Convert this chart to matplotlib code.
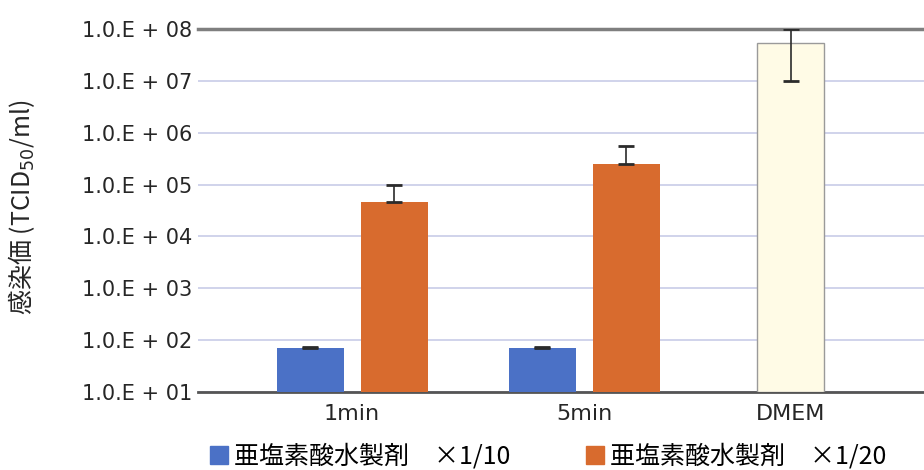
import numpy as np
import matplotlib
matplotlib.use("Agg")
import matplotlib.pyplot as plt
from matplotlib.patches import Patch

plt.rcParams["font.family"] = ["Noto Sans CJK JP", "DejaVu Sans"]

# infectious titre per treatment (TCID50/ml), mean and SD
categories = ["1min", "5min", "DMEM"]
series_names = ["亜塩素酸水製剤　×1/10", "亜塩素酸水製剤　×1/20"]
dil10_mean = [62, 62]
dil10_sd = [3, 3]
dil20_mean = [4.6e4, 2.5e5]
dil20_sd = [5.4e4, 3.0e5]
dmem_mean = 5.5e7
dmem_sd = 4.5e7

ytick_vals = [1e1, 1e2, 1e3, 1e4, 1e5, 1e6, 1e7, 1e8]
ytick_labels = ["1.0.E + 01", "1.0.E + 02", "1.0.E + 03", "1.0.E + 04",
                "1.0.E + 05", "1.0.E + 06", "1.0.E + 07", "1.0.E + 08"]

blue = "#4b71c6"
orange = "#d86b2e"
cream = "#fffbe6"
text_col = "#262626"


def lower_err(mean, sd):
    # a negative lower bound can't be shown on a log axis, so clip it to the bar top
    mean = np.asarray(mean, float)
    sd = np.asarray(sd, float)
    return np.where(sd < mean, sd, 0.0)


fig = plt.figure(figsize=(9.24, 4.70), dpi=100)
ax = fig.add_axes([0.2143, 0.166, 0.7857, 0.772])

centers = np.array([0.0, 1.0, 1.89])
width = 0.289
off = 0.181
ekw = dict(ecolor="#2b2b2b", elinewidth=1.2, capsize=6, capthick=2)

ax.bar(centers[:2] - off, dil10_mean, width, color=blue, bottom=1e1,
       yerr=[lower_err(dil10_mean, dil10_sd), dil10_sd], error_kw=ekw, zorder=3)
ax.bar(centers[:2] + off, dil20_mean, width, color=orange, bottom=1e1,
       yerr=[lower_err(dil20_mean, dil20_sd), dil20_sd], error_kw=ekw, zorder=3)
ax.bar(centers[2], dmem_mean, width, color=cream, edgecolor="#9a9a9a",
       linewidth=1, bottom=1e1,
       yerr=[[dmem_sd], [dmem_sd]], error_kw=ekw, zorder=3)

ax.set_yscale("log")
ax.set_ylim(1e1, 1e8)
ax.set_xlim(-0.664, 2.465)
ax.set_yticks(ytick_vals)
ax.set_yticklabels(ytick_labels, fontsize=15, color=text_col, family="DejaVu Sans")
ax.minorticks_off()
ax.tick_params(axis="y", length=0, pad=4)
ax.set_xticks(centers)
ax.set_xticklabels(categories, fontsize=16, color=text_col, family="DejaVu Sans")
ax.tick_params(axis="x", length=0, pad=9)

ax.yaxis.grid(True, color="#c3c8e6", linewidth=1.1, zorder=0)
ax.set_axisbelow(True)
for side in ("left", "right"):
    ax.spines[side].set_visible(False)
ax.spines["top"].set_color("#7f7f7f")
ax.spines["top"].set_linewidth(2.5)
ax.spines["bottom"].set_color("#555555")
ax.spines["bottom"].set_linewidth(2)

ax.set_ylabel("感染価 (TCID$_{50}$/ml)", fontsize=18, color=text_col)
ax.yaxis.set_label_coords(-0.222, 0.51)

handles = [Patch(color=blue), Patch(color=orange)]
fig.legend(handles, series_names, loc="lower left", bbox_to_anchor=(0.203, -0.047),
           ncol=2, frameon=False, fontsize=18, handlelength=0.72, handleheight=0.72,
           handletextpad=0.25, columnspacing=3.0)

fig.savefig("out.png", dpi=100)
